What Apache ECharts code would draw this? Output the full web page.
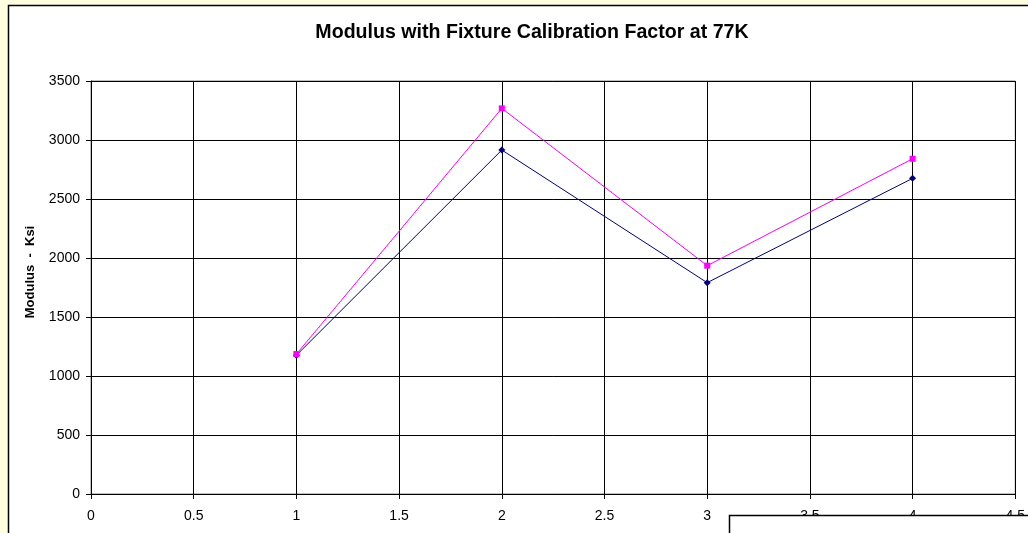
<!DOCTYPE html>
<html><head><meta charset="utf-8">
<script src="https://cdn.jsdelivr.net/npm/echarts@6/dist/echarts.min.js"></script>
<style>html,body{margin:0;padding:0;background:#FFFFE0;}#c{width:1028px;height:533px;}</style>
</head><body><div id="c"></div>
<script>
const titleText = 'Modulus with Fixture Calibration Factor at 77K';
const yAxisName = 'Modulus  -  Ksi';
const xValues = [1, 2, 3, 4];
const seriesA = [1176, 2915, 1791, 2675];
const seriesB = [1186, 3268, 1935, 2841];

const chart = echarts.init(document.getElementById('c'), null, {renderer: 'canvas'});
const font = 'Liberation Sans, Arial, sans-serif';
chart.setOption({
  backgroundColor: '#FFFFE0',
  animation: false,
  graphic: [
    {type: 'rect', z: -10, silent: true,
      shape: {x: 8.5, y: 5.5, width: 1100, height: 600},
      style: {fill: '#fff', stroke: '#000', lineWidth: 1.5}},
    {type: 'text', z: 50, silent: true, x: 532, y: 33,
      style: {text: titleText, font: 'bold 19.6px ' + font, fill: '#000', align: 'center', verticalAlign: 'middle'}},
    {type: 'rect', z: 100, silent: true,
      shape: {x: 729.5, y: 515.5, width: 400, height: 100},
      style: {fill: '#fff', stroke: '#000', lineWidth: 1.5}},
    {type: 'text', z: 100, silent: true, x: 30, y: 272, rotation: Math.PI / 2,
      style: {text: yAxisName, font: 'bold 13px ' + font, fill: '#000', align: 'center', verticalAlign: 'middle'}}
  ],
  grid: {left: 91, top: 81, right: 11, bottom: 39, show: true, borderColor: '#808080', borderWidth: 1, backgroundColor: 'transparent'},
  xAxis: {type: 'value', min: 0, max: 4.5, interval: 0.5,
    axisLine: {show: true, onZero: false, lineStyle: {color: '#000', width: 1}},
    axisTick: {show: true, length: 5, inside: false, lineStyle: {color: '#000'}},
    axisLabel: {color: '#000', fontFamily: font, fontSize: 14, margin: 15, formatter: v => String(v)},
    splitLine: {show: true, lineStyle: {color: '#000', width: 1}}},
  yAxis: {type: 'value', min: 0, max: 3500, interval: 500,
    axisLine: {show: true, onZero: false, lineStyle: {color: '#000', width: 1}},
    axisTick: {show: true, length: 5, lineStyle: {color: '#000'}},
    axisLabel: {color: '#000', fontFamily: font, fontSize: 14, margin: 11, formatter: v => String(v)},
    splitLine: {show: true, lineStyle: {color: '#000', width: 1}}},
  series: [
    {name: 'A', type: 'line', data: xValues.map((x, i) => [x, seriesA[i]]),
      symbol: 'diamond', symbolSize: 7, itemStyle: {color: '#000080'},
      lineStyle: {color: '#000080', width: 1}},
    {name: 'B', type: 'line', data: xValues.map((x, i) => [x, seriesB[i]]),
      symbol: 'rect', symbolSize: 6, itemStyle: {color: '#FF00FF'},
      lineStyle: {color: '#FF00FF', width: 1}}
  ]
});
</script></body></html>
